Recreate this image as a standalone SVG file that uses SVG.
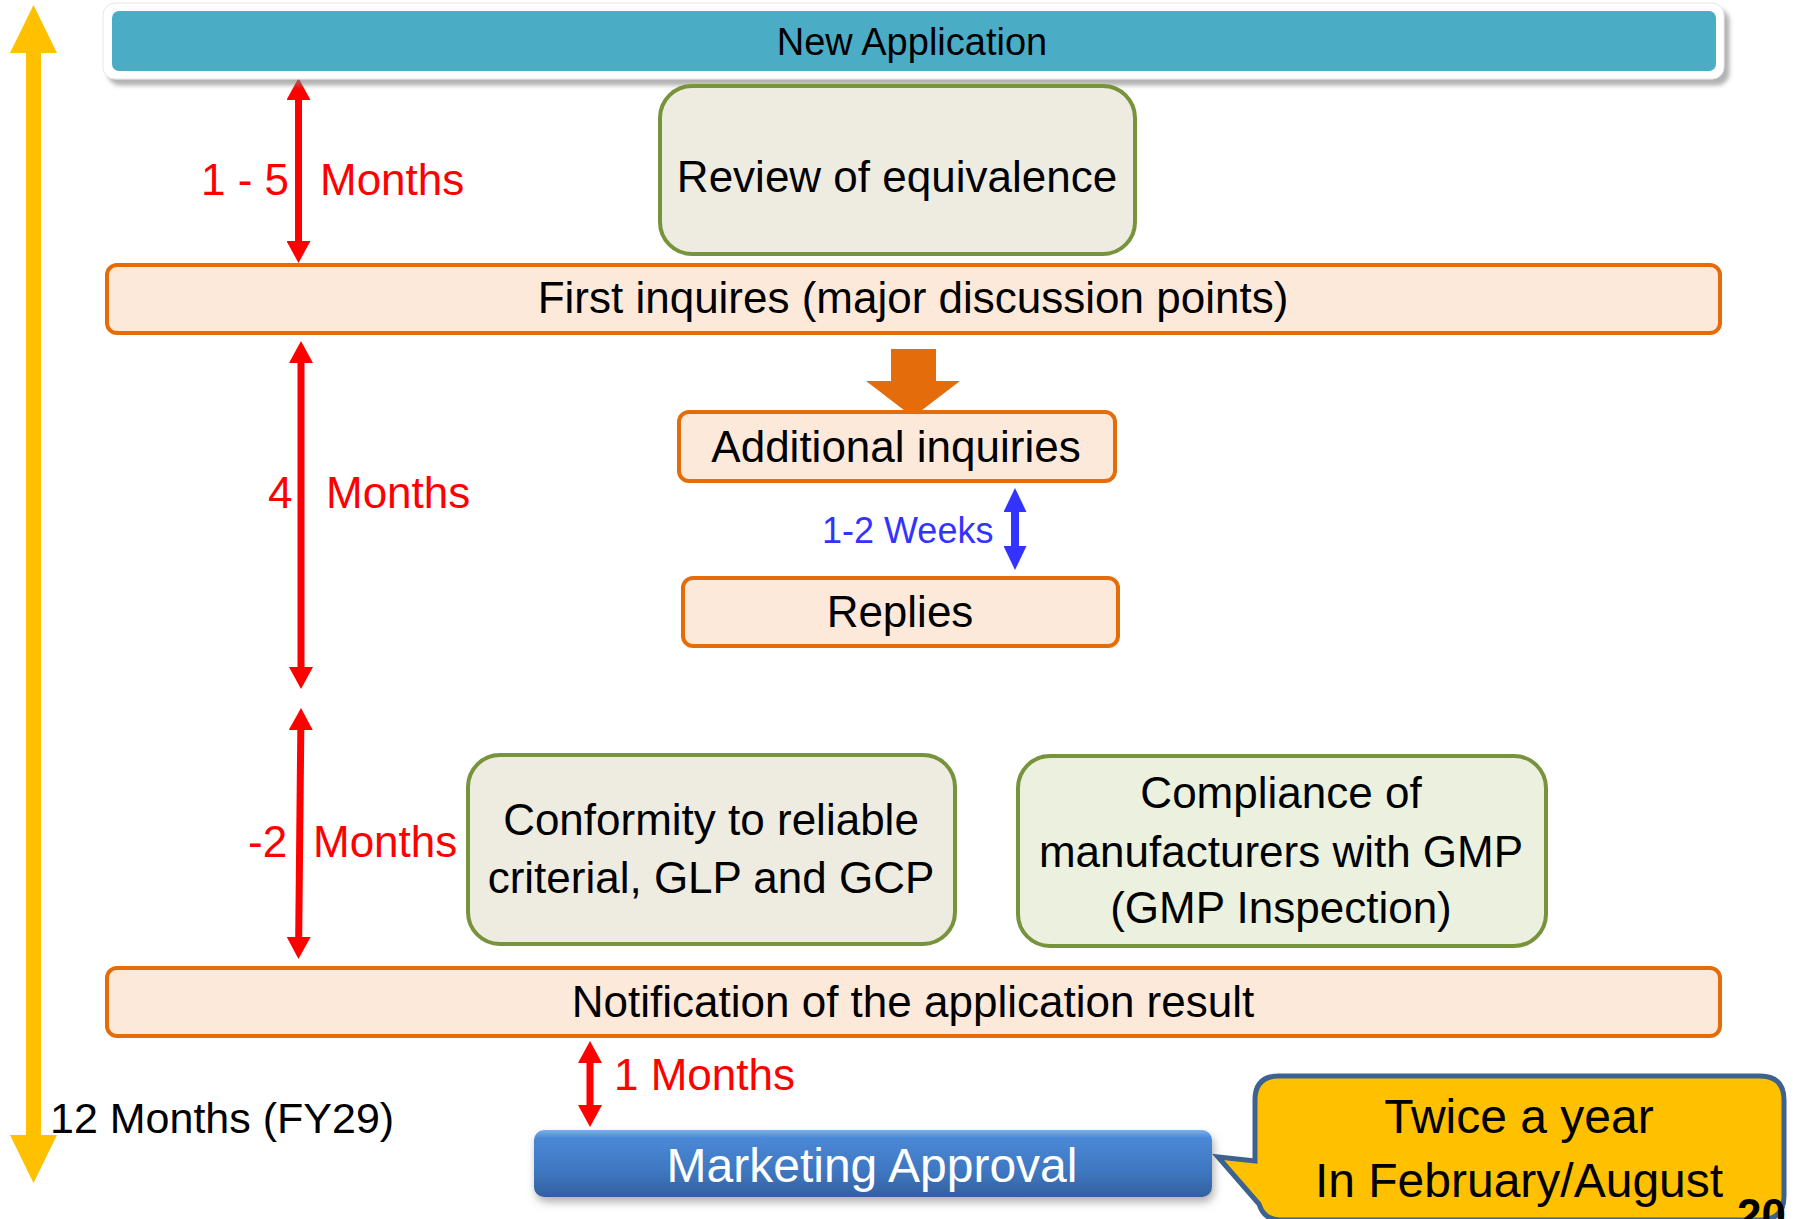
<svg xmlns="http://www.w3.org/2000/svg" width="1796" height="1219" viewBox="0 0 1796 1219">
<style>
text{font-family:"Liberation Sans",Arial,sans-serif;}
.t{font-size:44px;fill:#000;text-anchor:middle;}
.red{font-size:44px;fill:#FF0000;}
.orange{fill:#FDE9D9;stroke:#E46C0A;stroke-width:4;}
.green1{fill:#EEECE1;stroke:#77933C;stroke-width:4;}
.green2{fill:#EBF1DE;stroke:#77933C;stroke-width:4;}
.rline{stroke:#FF0000;stroke-width:7;fill:none;}
</style>
<defs>
<marker id="rh" viewBox="0 0 22 24" refX="0" refY="12" markerWidth="22" markerHeight="24" markerUnits="userSpaceOnUse" orient="auto-start-reverse">
<path d="M0,0 L22,12 L0,24 Z" fill="#FF0000"/>
</marker>
<marker id="bh" viewBox="0 0 24 23" refX="0" refY="11.5" markerWidth="24" markerHeight="23" markerUnits="userSpaceOnUse" orient="auto-start-reverse">
<path d="M0,0 L24,11.5 L0,23 Z" fill="#3333FF"/>
</marker>
<marker id="yh" viewBox="0 0 48 47" refX="0" refY="23.5" markerWidth="48" markerHeight="47" markerUnits="userSpaceOnUse" orient="auto-start-reverse">
<path d="M0,0 L48,23.5 L0,47 Z" fill="#FFC000"/>
</marker>
<linearGradient id="mg" x1="0" y1="0" x2="0" y2="1">
<stop offset="0" stop-color="#7AB0EC"/>
<stop offset="0.12" stop-color="#4A88D6"/>
<stop offset="0.6" stop-color="#3F78C2"/>
<stop offset="1" stop-color="#33609E"/>
</linearGradient>
<filter id="sh1" x="-5%" y="-20%" width="110%" height="160%">
<feDropShadow dx="5" dy="6" stdDeviation="2" flood-color="#808080" flood-opacity="0.6"/>
</filter>
<filter id="sh2" x="-5%" y="-20%" width="110%" height="160%">
<feDropShadow dx="2" dy="5" stdDeviation="4" flood-color="#606060" flood-opacity="0.5"/>
</filter>
</defs>

<g id="connectors">
<line x1="33.5" y1="53" x2="33.5" y2="1135" stroke="#FFC000" stroke-width="15" marker-start="url(#yh)" marker-end="url(#yh)"/>
<line class="rline" x1="298.5" y1="100" x2="298.5" y2="241" marker-start="url(#rh)" marker-end="url(#rh)"/>
<line class="rline" x1="301" y1="363" x2="301" y2="667" marker-start="url(#rh)" marker-end="url(#rh)"/>
<line class="rline" x1="300.8" y1="730" x2="298.7" y2="937" marker-start="url(#rh)" marker-end="url(#rh)"/>
<line class="rline" x1="590" y1="1063" x2="590" y2="1105" marker-start="url(#rh)" marker-end="url(#rh)"/>
<line x1="1015" y1="512" x2="1015" y2="546" stroke="#3333FF" stroke-width="8" marker-start="url(#bh)" marker-end="url(#bh)"/>
<polygon points="891,349 936,349 936,381 960,381 913,417 866,381 891,381" fill="#E46C0A"/>
</g>

<g id="labels">
<text class="red" x="201" y="195">1 - 5</text>
<text class="red" x="320" y="195">Months</text>
<text class="red" x="268" y="508">4</text>
<text class="red" x="326" y="508">Months</text>
<text class="red" x="248" y="857">-2</text>
<text class="red" x="313" y="857">Months</text>
<text class="red" x="614" y="1090">1 Months</text>
<text x="50" y="1133" style="font-size:43px;fill:#000">12 Months (FY29)</text>
<text x="822" y="543" style="font-size:36px;fill:#3333FF">1-2 Weeks</text>
</g>

<g id="new-application">
<rect x="103" y="3" width="1621" height="76" rx="12" fill="#FFFFFF" stroke="#E6E6E6" stroke-width="1" filter="url(#sh1)"/>
<rect x="112" y="11" width="1604" height="60" rx="7" fill="#4BACC6"/>
<text class="t" x="912" y="55" style="font-size:38px">New Application</text>
</g>

<g id="review-equivalence">
<rect class="green1" x="660" y="86" width="475" height="168" rx="32"/>
<text class="t" x="897" y="192">Review of equivalence</text>
</g>

<g id="first-inquires">
<rect class="orange" x="107" y="265" width="1613" height="68" rx="10"/>
<text class="t" x="913" y="313">First inquires (major discussion points)</text>
</g>

<g id="additional-inquiries">
<rect class="orange" x="679" y="412" width="436" height="69" rx="10"/>
<text class="t" x="896" y="462">Additional inquiries</text>
</g>

<g id="replies">
<rect class="orange" x="683" y="578" width="435" height="68" rx="10"/>
<text class="t" x="900" y="627">Replies</text>
</g>

<g id="conformity">
<rect class="green1" x="468" y="755" width="487" height="189" rx="32"/>
<text class="t" x="711" y="835">Conformity to reliable</text>
<text class="t" x="711" y="893">criterial, GLP and GCP</text>
</g>

<g id="compliance">
<rect class="green2" x="1018" y="756" width="528" height="190" rx="32"/>
<text class="t" x="1281" y="808">Compliance of</text>
<text class="t" x="1281" y="867">manufacturers with GMP</text>
<text class="t" x="1281" y="923">(GMP Inspection)</text>
</g>

<g id="notification">
<rect class="orange" x="107" y="968" width="1613" height="68" rx="10"/>
<text class="t" x="913" y="1017">Notification of the application result</text>
</g>

<g id="marketing-approval">
<rect x="534" y="1130" width="678" height="67" rx="10" fill="url(#mg)" filter="url(#sh2)"/>
<text class="t" x="872" y="1182" style="font-size:48px;fill:#FFFFFF">Marketing Approval</text>
</g>

<g id="callout">
<path d="M1279,1076 H1760 Q1784,1076 1784,1100 V1196 Q1784,1220 1760,1220 H1280 Q1264,1220 1259,1204 L1218,1157 L1255,1161 V1100 Q1255,1076 1279,1076 Z" fill="#FFC000" stroke="#3E6290" stroke-width="5"/>
<text class="t" x="1519" y="1133" style="font-size:48px">Twice a year</text>
<text class="t" x="1519" y="1197" style="font-size:48px">In February/August</text>
</g>

<text x="1737" y="1230" style="font-size:44px;font-weight:bold;fill:#000">20</text>
</svg>
